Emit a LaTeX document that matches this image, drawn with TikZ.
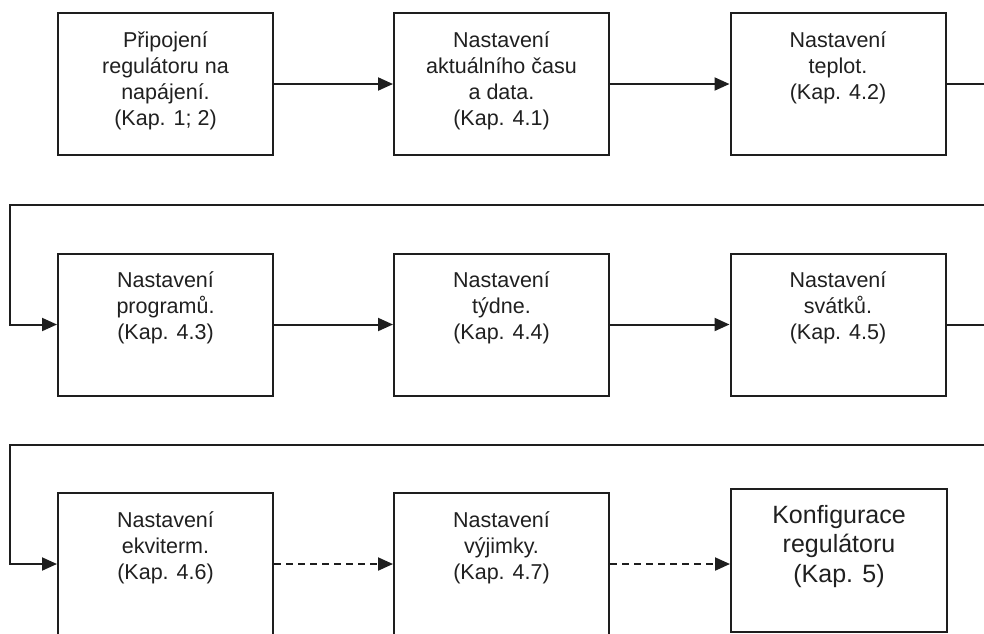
\documentclass[tikz,border=0pt]{standalone}
\usepackage{fontspec}
\setmainfont{Liberation Sans}
\usetikzlibrary{arrows.meta}
\definecolor{ink}{HTML}{1E1E1E}
\definecolor{txtc}{HTML}{202020}
\begin{document}
\begin{tikzpicture}[x=1pt,y=-1pt,
  stepbox/.style={draw=ink,line width=2pt,rectangle,minimum width=215pt,minimum height=142pt,inner sep=0pt},
  bigbox/.style={stepbox,minimum width=216pt,minimum height=143pt},
  txt/.style={anchor=north,align=center,inner sep=0pt,text=txtc,font=\fontsize{21.5}{26}\selectfont},
  bigtxt/.style={anchor=north,align=center,inner sep=0pt,text=txtc,font=\fontsize{25}{29.5}\selectfont},
  conn/.style={draw=ink,line width=2pt,-{Triangle[length=15pt,width=13pt]}},
  dconn/.style={conn,dash pattern=on 7pt off 5pt}
]
\useasboundingbox (0,0) rectangle (984,633);
\clip (0,0) rectangle (984,633);
\fill[white] (0,0) rectangle (984,633);
% row 1
\node[stepbox] (b1) at (165.5,84) {};
\node[stepbox] (b2) at (501.5,84) {};
\node[stepbox] (b3) at (838,84) {};
% row 2
\node[stepbox] (b4) at (165.5,324.5) {};
\node[stepbox] (b5) at (501.5,324.5) {};
\node[stepbox] (b6) at (838,324.5) {};
% row 3
\node[stepbox] (b7) at (165.5,564) {};
\node[stepbox] (b8) at (501.5,564) {};
\node[bigbox] (b9) at (839,560.5) {};
% texts
\node[txt] (t1) at ([yshift=-16.8pt]b1.north) {\strut Připojení\\regulátoru na\\napájení.\\(Kap. 1; 2)};
\node[txt] (t2) at ([yshift=-16.8pt]b2.north) {\strut Nastavení\\aktuálního času\\a data.\\(Kap. 4.1)};
\node[txt] (t3) at ([yshift=-16.8pt]b3.north) {\strut Nastavení\\teplot.\\(Kap. 4.2)};
\node[txt] (t4) at ([yshift=-16.8pt]b4.north) {\strut Nastavení\\programů.\\(Kap. 4.3)};
\node[txt] (t5) at ([yshift=-16.8pt]b5.north) {\strut Nastavení\\týdne.\\(Kap. 4.4)};
\node[txt] (t6) at ([yshift=-16.8pt]b6.north) {\strut Nastavení\\svátků.\\(Kap. 4.5)};
\node[txt] (t7) at ([yshift=-16.8pt]b7.north) {\strut Nastavení\\ekviterm.\\(Kap. 4.6)};
\node[txt] (t8) at ([yshift=-16.8pt]b8.north) {\strut Nastavení\\výjimky.\\(Kap. 4.7)};
\node[bigtxt] (t9) at ([yshift=-14.4pt]b9.north) {\strut Konfigurace\\regulátoru\\(Kap. 5)};
% connectors
\draw[conn] (b1.east) -- (b2.west);
\draw[conn] (b2.east) -- (b3.west);
\draw[conn] (b3.east) -- ++(60,0) |- (10,205) |- (b4.west);
\draw[conn] (b4.east) -- (b5.west);
\draw[conn] (b5.east) -- (b6.west);
\draw[conn] (b6.east) -- ++(60,0) |- (10,445) |- (b7.west);
\draw[dconn] (b7.east) -- (b8.west);
\draw[dconn] (b8.east) -- (b9.west |- b8.east);
\end{tikzpicture}
\end{document}
